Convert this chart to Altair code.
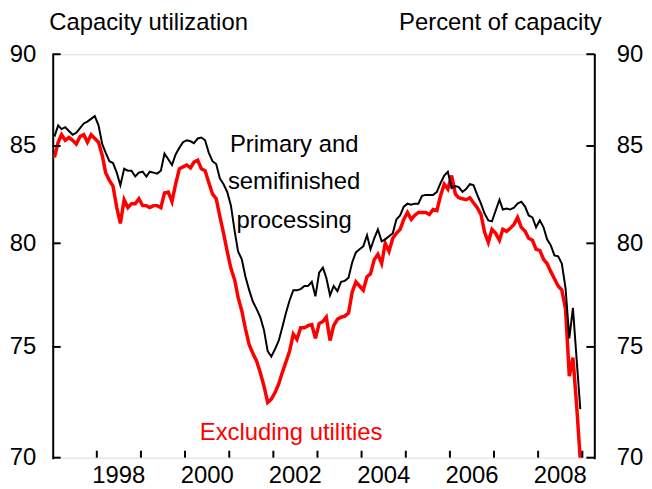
import altair as alt
import pandas as pd

FONT = "Liberation Sans"
W, H = 545, 406

# Monthly capacity utilization, Jan 1997 - Dec 2008 (percent of capacity)
primary = [
    85.5, 86.1, 85.9, 86.0, 85.8, 85.6, 85.7, 85.95, 86.2, 86.3, 86.45, 86.6,      # 1997
    86.1, 85.1, 84.65, 84.2, 84.1, 83.6, 82.95, 83.8, 83.7, 83.7, 83.4, 83.6,      # 1998
    83.65, 83.4, 83.65, 83.6, 83.55, 83.7, 84.6, 84.3, 84.0, 84.55, 84.9, 85.2,    # 1999
    85.3, 85.25, 85.15, 85.4, 85.45, 85.3, 84.65, 84.2, 84.05, 83.3, 83.0, 82.6,   # 2000
    81.9, 80.6, 79.6, 79.2, 78.35, 77.7, 77.15, 76.8, 76.4, 75.8, 74.8, 74.55,     # 2001
    74.9, 75.3, 75.9, 76.6, 77.2, 77.7, 77.7, 77.75, 77.9, 77.9, 78.1, 77.4,       # 2002
    78.55, 78.8, 78.3, 77.45, 77.9, 77.65, 78.1, 78.15, 78.3, 79.05, 79.55, 79.7,  # 2003
    79.85, 80.4, 79.7, 80.25, 80.7, 80.1, 80.2, 80.35, 80.5, 81.2, 81.4, 81.85,    # 2004
    82.0, 81.95, 82.0, 82.0, 82.4, 82.45, 82.45, 82.45, 82.6, 83.05, 83.45, 83.65, # 2005
    82.8, 82.9, 82.85, 82.6, 82.75, 83.0, 82.95, 82.45, 82.0, 81.5, 81.15, 81.1,   # 2006
    81.65, 82.2, 81.7, 81.75, 81.7, 81.8, 82.0, 82.1, 81.85, 81.4, 81.3, 80.8,     # 2007
    81.15, 80.8, 80.2, 79.9, 79.4, 79.35, 79.0, 77.8, 75.4, 76.85, 74.4, 72.15,    # 2008
]
excl_util = [
    84.4, 85.2, 85.6, 85.3, 85.45, 85.3, 85.1, 85.5, 85.6, 85.2, 85.6, 85.4,       # 1997
    85.2, 84.5, 83.6, 83.2, 82.9, 81.8, 81.0, 82.2, 81.8, 82.0, 82.0, 82.25,       # 1998
    81.9, 81.9, 81.8, 81.9, 81.9, 81.8, 82.55, 82.6, 82.1, 83.0, 83.8, 83.9,       # 1999
    84.0, 83.85, 84.15, 84.25, 83.8, 83.7, 83.1, 82.5, 82.25, 81.35, 80.5, 79.6,   # 2000
    78.75, 78.2, 77.35, 76.7, 75.85, 75.1, 74.7, 74.35, 73.8, 73.2, 72.45, 72.6,   # 2001
    72.9, 73.3, 73.8, 74.3, 74.8, 75.6, 75.35, 75.9, 75.9, 76.0, 76.05, 75.4,      # 2002
    76.1, 76.2, 76.4, 75.3, 76.0, 76.3, 76.4, 76.45, 76.6, 77.6, 78.1, 77.9,       # 2003
    77.7, 78.35, 78.5, 79.2, 79.45, 79.0, 80.0, 79.6, 80.25, 80.5, 80.7, 81.2,     # 2004
    81.55, 81.2, 81.4, 81.55, 81.55, 81.55, 81.45, 81.7, 81.65, 82.4, 83.0, 82.75, # 2005
    83.45, 82.5, 82.3, 82.25, 82.2, 82.3, 82.05, 81.8, 81.45, 80.55, 80.05, 80.7,  # 2006
    80.5, 80.15, 80.7, 80.6, 80.75, 80.95, 81.3, 80.8, 80.6, 80.25, 80.15, 79.7,   # 2007
    79.65, 79.2, 79.0, 78.6, 78.25, 77.9, 77.7, 76.8, 73.65, 74.5, 72.3, 69.9,     # 2008
]

y_ticks = [70, 75, 80, 85, 90]
x_tick_years = list(range(1998, 2010))
x_label_years = [1998, 2000, 2002, 2004, 2006, 2008]

# annotation text (label, date, value, colour)
ann_text = ["Primary and", "semifinished", "processing", "Excluding utilities"]
ann_date = ["2002-06-22", "2002-06-22", "2002-06-22", "2002-05-28"]
ann_value = [84.68, 82.73, 80.79, 70.79]
ann_color = ["black", "black", "black", "red"]

dates = pd.date_range("1997-01-01", periods=len(primary), freq="MS") + pd.Timedelta(days=14)
df = pd.DataFrame({"date": dates, "primary": primary, "excl": excl_util})
ticks_df = pd.DataFrame({"v": y_ticks})
xt_df = pd.DataFrame({"d": pd.to_datetime([f"{y}-01-01" for y in x_tick_years])})
xl_df = pd.DataFrame({"d": pd.to_datetime([f"{y}-07-02" for y in x_label_years]),
                      "lab": [str(y) for y in x_label_years]})
ann_df = pd.DataFrame({"text": ann_text, "date": pd.to_datetime(ann_date),
                       "value": ann_value, "color": ann_color})

xscale = alt.Scale(domain=[alt.DateTime(year=1997, month=1, date=1),
                           alt.DateTime(year=2009, month=4, date=10)], nice=False)
yscale = alt.Scale(type="log", domain=[70, 90], nice=False, zero=False)

x_axis = alt.Axis(
    ticks=False, grid=False, domain=True, domainColor="black", labels=False,
    domainWidth=2, domainCap="square", title=None,
)

def y_axis(orient, pad, title, tx, align):
    return alt.Axis(
        orient=orient, values=y_ticks, format="d", ticks=False, grid=False,
        domain=True, domainColor="black", domainWidth=2, domainCap="square",
        labelFontSize=24, labelFont=FONT, labelColor="black", labelPadding=pad,
        title=title, titleAngle=0, titleX=tx, titleY=-25, titleAlign=align,
        titleBaseline="alphabetic", titleFontSize=24, titleFont=FONT,
        titleFontWeight="normal", titleColor="black",
    )

red_line = alt.Chart(df).mark_line(color="#FF0000", strokeWidth=3.5, clip=True).encode(
    x=alt.X("date:T", scale=xscale, axis=x_axis),
    y=alt.Y("excl:Q", scale=yscale,
            axis=y_axis("left", 17, "Capacity utilization", -4, "left")),
)
black_line = alt.Chart(df).mark_line(color="black", strokeWidth=2, clip=True).encode(
    x=alt.X("date:T", scale=xscale, axis=None),
    y=alt.Y("primary:Q", scale=yscale,
            axis=y_axis("right", 22, "Percent of capacity", 7, "right")),
)
left_ticks = alt.Chart(ticks_df).mark_rule(color="black", strokeWidth=2).encode(
    y=alt.Y("v:Q", scale=yscale, axis=None), x=alt.value(0), x2=alt.value(8),
)
right_ticks = alt.Chart(ticks_df).mark_rule(color="black", strokeWidth=2).encode(
    y=alt.Y("v:Q", scale=yscale, axis=None), x=alt.value(W - 8), x2=alt.value(W),
)
x_ticks = alt.Chart(xt_df).mark_rule(color="black", strokeWidth=2).encode(
    x=alt.X("d:T", scale=xscale, axis=None), y=alt.value(H), y2=alt.value(H - 7),
)
x_labels = alt.Chart(xl_df).mark_text(fontSize=24, font=FONT, align="center",
                                      baseline="top", color="black").encode(
    x=alt.X("d:T", scale=xscale, axis=None), y=alt.value(H + 6), text="lab:N",
)
ann = alt.Chart(ann_df).mark_text(fontSize=24, font=FONT, align="center",
                                  baseline="alphabetic").encode(
    x=alt.X("date:T", scale=xscale, axis=None),
    y=alt.Y("value:Q", scale=yscale, axis=None),
    text="text:N",
    color=alt.Color("color:N", scale=None),
)

chart = alt.layer(red_line, black_line, left_ticks, right_ticks, x_ticks, x_labels, ann).resolve_scale(
    y="independent"
).properties(
    width=W, height=H,
    autosize=alt.AutoSizeParams(type="none"),
    padding={"left": 45, "top": 45, "right": 50, "bottom": 30},
).configure_view(stroke=None).configure(background="white")

chart.save("out.html", embed_options={"renderer": "svg", "actions": False})
